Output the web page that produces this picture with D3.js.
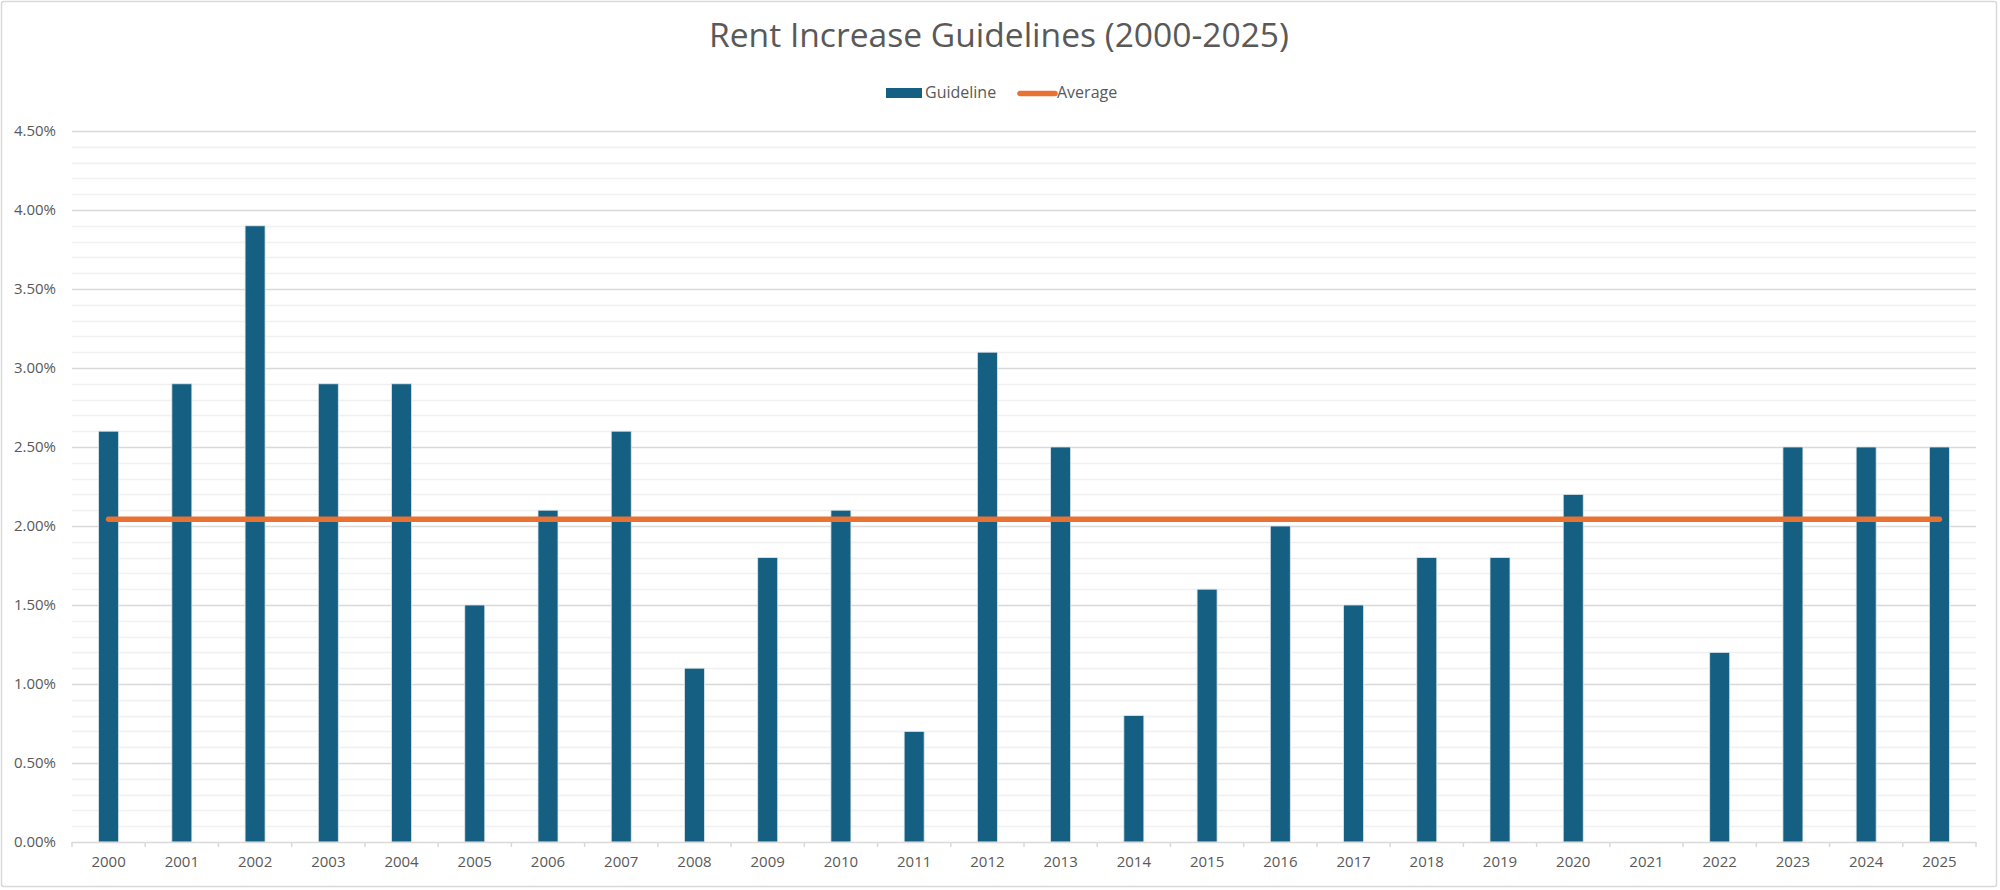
<!DOCTYPE html>
<html>
<head>
<meta charset="utf-8">
<script src="https://cdn.jsdelivr.net/npm/d3@7"></script>
<style>
  html, body { margin: 0; padding: 0; background: #fff; }
  svg { display: block; }
  text { font-family: "Open Sans", Roboto, "Liberation Sans", Arial, sans-serif; fill: #595959; }
</style>
</head>
<body>
<svg id="chart" width="2000" height="890"></svg>
<script>
const years = ["2000","2001","2002","2003","2004","2005","2006","2007","2008","2009","2010","2011","2012","2013","2014","2015","2016","2017","2018","2019","2020","2021","2022","2023","2024","2025"];
const guideline = [2.6,2.9,3.9,2.9,2.9,1.5,2.1,2.6,1.1,1.8,2.1,0.7,3.1,2.5,0.8,1.6,2.0,1.5,1.8,1.8,2.2,0,1.2,2.5,2.5,2.5];
const average = years.map(() => d3.mean(guideline));
const yTicks = [0,0.5,1,1.5,2,2.5,3,3.5,4,4.5];
const yMinor = d3.range(0, 46).map(i => i / 10);
const title = "Rent Increase Guidelines (2000-2025)";
const seriesNames = ["Guideline", "Average"];

const plotL = 72, plotR = 1976, plotT = 131, plotB = 842;
const barColor = "#156082", lineColor = "#E97132";
const FONT = "'Open Sans', Roboto, 'Liberation Sans', Arial, sans-serif";

const svg = d3.select("#chart");

// chart border
svg.append("rect").attr("x", 1.5).attr("y", 1.5).attr("width", 1995).attr("height", 885)
  .attr("fill", "#fff").attr("stroke", "#d9d9d9").attr("stroke-width", 1.5).attr("rx", 2);

const x = d3.scaleBand().domain(years).range([plotL, plotR]).padding(0);
const y = d3.scaleLinear().domain([0, 4.5]).range([plotB, plotT]);

// minor gridlines
svg.append("g").selectAll("line").data(yMinor.filter(v => Math.round(v * 10) % 5 !== 0)).join("line")
  .attr("x1", plotL).attr("x2", plotR)
  .attr("y1", d => Math.round(y(d)) + 0.5).attr("y2", d => Math.round(y(d)) + 0.5)
  .attr("stroke", "#f0f0f0").attr("stroke-width", 1.5);

// major gridlines
svg.append("g").selectAll("line").data(yTicks.filter(v => v > 0)).join("line")
  .attr("x1", plotL).attr("x2", plotR)
  .attr("y1", d => Math.round(y(d)) + 0.5).attr("y2", d => Math.round(y(d)) + 0.5)
  .attr("stroke", "#d9d9d9").attr("stroke-width", 1.5);

// y labels
const yAxis = d3.axisLeft(y).tickValues(yTicks).tickSize(0).tickPadding(16)
  .tickFormat(d => d.toFixed(2) + "%");
const gy = svg.append("g").attr("transform", `translate(${plotL},0)`).call(yAxis);
gy.select(".domain").remove();
gy.selectAll("text").style("font-size", "15px").attr("fill", "#595959").style("font-family", FONT);

// bars
const bw = x.bandwidth() * 0.273;
svg.append("g").selectAll("rect").data(guideline.map((v, i) => ({ year: years[i], v })).filter(d => d.v > 0)).join("rect")
  .attr("x", d => x(d.year) + x.bandwidth() / 2 - bw / 2)
  .attr("y", d => y(d.v))
  .attr("width", bw)
  .attr("height", d => y(0) - y(d.v))
  .attr("fill", barColor)
  .attr("stroke", "#dce6ea").attr("stroke-width", 0.8);

// x axis
const xAxis = d3.axisBottom(x).tickSize(0).tickPadding(14);
const gx = svg.append("g").attr("transform", `translate(0,${plotB})`).call(xAxis);
gx.select(".domain").remove();
gx.selectAll("text").style("font-size", "15px").attr("fill", "#595959").style("font-family", FONT);
svg.append("line").attr("x1", plotL).attr("x2", plotR).attr("y1", plotB + 0.5).attr("y2", plotB + 0.5)
  .attr("stroke", "#d9d9d9").attr("stroke-width", 1.5);
const bounds = years.map(d => x(d)).concat([x(years[years.length - 1]) + x.bandwidth()]);
svg.append("g").selectAll("line").data(bounds).join("line")
  .attr("x1", d => d).attr("x2", d => d).attr("y1", plotB).attr("y2", plotB + 5)
  .attr("stroke", "#d9d9d9").attr("stroke-width", 1.5);

// average line
const line = d3.line().x((d, i) => x(years[i]) + x.bandwidth() / 2).y(d => y(d));
svg.append("path").datum(average).attr("d", line)
  .attr("fill", "none").attr("stroke", lineColor).attr("stroke-width", 5.5)
  .attr("stroke-linecap", "round");

// title
const t = svg.append("text").attr("x", 999).attr("y", 47).attr("text-anchor", "middle")
  .style("font-size", "28px").text(title);
const tw = t.node().getComputedTextLength();
if (tw > 0) t.style("font-size", (28 * 580 / tw).toFixed(2) + "px");

// legend
const lg = svg.append("g");
lg.append("rect").attr("x", 886).attr("y", 88).attr("width", 36).attr("height", 10).attr("fill", barColor);
lg.append("text").attr("x", 925).attr("y", 98).style("font-size", "16px").text(seriesNames[0]);
lg.append("line").attr("x1", 1020).attr("x2", 1055).attr("y1", 93.5).attr("y2", 93.5)
  .attr("stroke", lineColor).attr("stroke-width", 5.5).attr("stroke-linecap", "round");
lg.append("text").attr("x", 1057).attr("y", 98).style("font-size", "16px").text(seriesNames[1]);
</script>
</body>
</html>
